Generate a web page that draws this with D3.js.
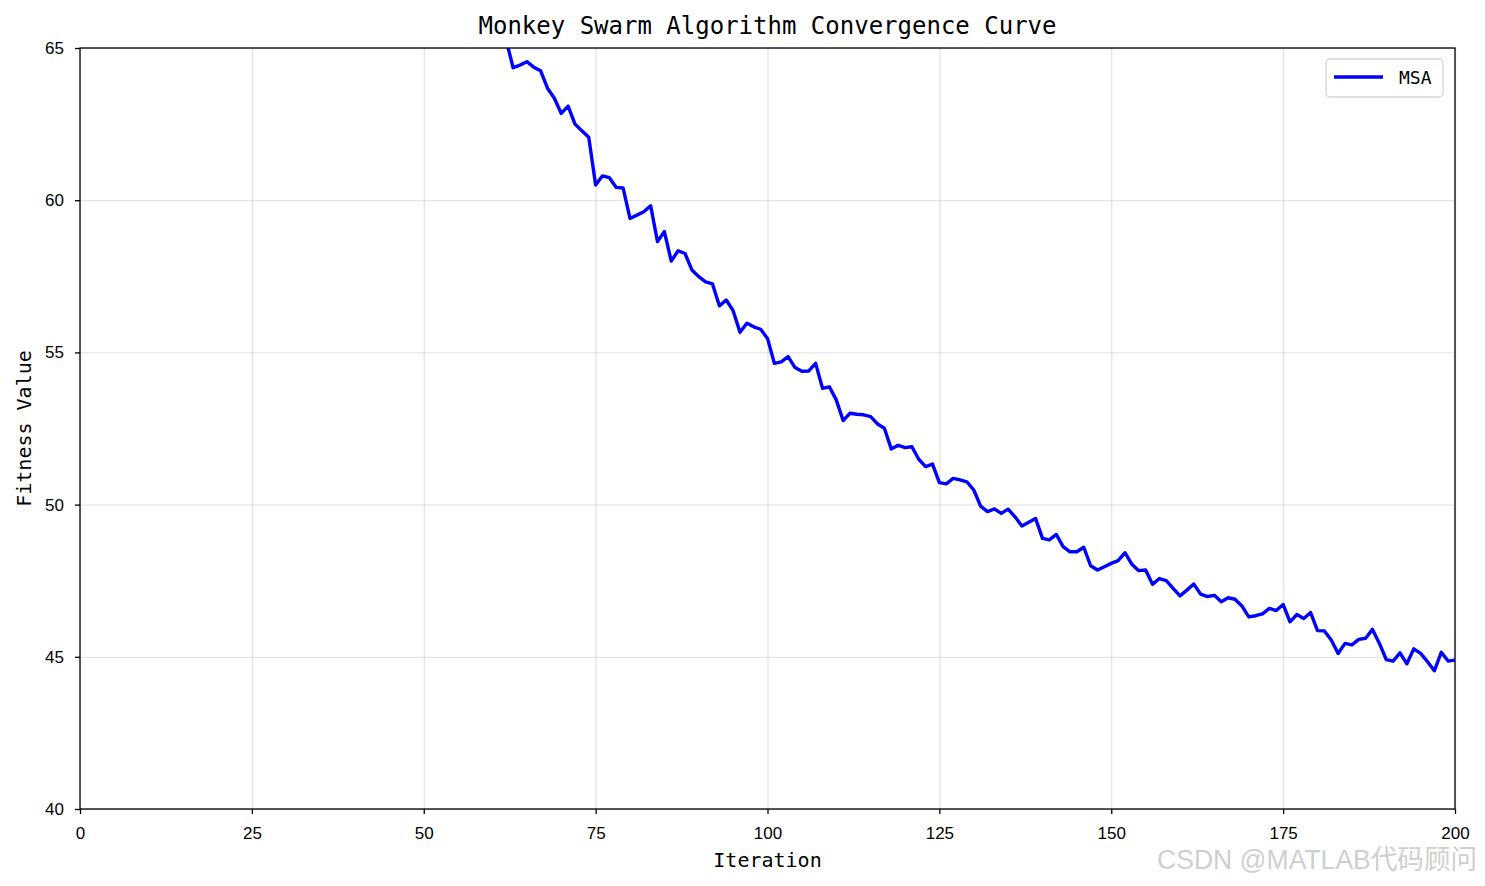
<!DOCTYPE html>
<html>
<head>
<meta charset="utf-8">
<script src="https://cdn.jsdelivr.net/npm/d3@7"></script>
<style>
  body { margin: 0; background: #fff; }
  .axis path, .axis line { stroke: #000; stroke-width: 1.3px; }
  .axis text { font-family: 'Liberation Sans', Arial, sans-serif; font-size: 17px; fill: #000; }
  .grid line { stroke: #000; stroke-opacity: 0.1; stroke-width: 1.3px; }
  .grid path { display: none; }
</style>
</head>
<body>
<script>
// fitness per iteration (earlier iterations are above the y range)
const firstIteration = 62
const fitness = [
  65.25, 64.35, 64.44, 64.55, 64.37, 64.25, 63.68, 63.35, 62.85, 63.09,
  62.50, 62.28, 62.07, 60.50, 60.80, 60.74, 60.42, 60.40, 59.40, 59.51,
  59.62, 59.82, 58.64, 58.97, 58.00, 58.34, 58.25, 57.71, 57.49, 57.32,
  57.25, 56.53, 56.72, 56.37, 55.66, 55.96, 55.84, 55.76, 55.46, 54.64,
  54.69, 54.86, 54.50, 54.38, 54.39, 54.64, 53.82, 53.87, 53.44, 52.76,
  53.00, 52.97, 52.95, 52.89, 52.65, 52.51, 51.83, 51.95, 51.87, 51.90,
  51.49, 51.25, 51.33, 50.72, 50.68, 50.86, 50.81, 50.75, 50.48, 49.95,
  49.77, 49.86, 49.71, 49.85, 49.60, 49.30, 49.42, 49.54, 48.89, 48.84,
  49.02, 48.62, 48.45, 48.45, 48.60, 47.99, 47.85, 47.96, 48.07, 48.16,
  48.42, 48.04, 47.83, 47.85, 47.38, 47.57, 47.50, 47.25, 47.00, 47.19,
  47.39, 47.06, 46.98, 47.02, 46.81, 46.94, 46.89, 46.67, 46.31, 46.35,
  46.41, 46.59, 46.52, 46.72, 46.15, 46.39, 46.26, 46.45, 45.86, 45.85,
  45.55, 45.11, 45.44, 45.39, 45.57, 45.61, 45.90, 45.44, 44.91, 44.86,
  45.13, 44.77, 45.26, 45.11, 44.84, 44.54, 45.15, 44.86, 44.89
]
const xTicks = [0, 25, 50, 75, 100, 125, 150, 175, 200]
const yTicks = [40, 45, 50, 55, 60, 65]
const seriesName = 'MSA'
const titleText = 'Monkey Swarm Algorithm Convergence Curve'
const xLabel = 'Iteration'
const yLabel = 'Fitness Value'

const svgWidth = 1485, svgHeight = 886
const margin = {top: 48, right: 30, bottom: 77, left: 80}
const width = svgWidth - margin.left - margin.right,
  height = svgHeight - margin.top - margin.bottom

const data = fitness.map(function(v, i) { return {iter: firstIteration + i, value: v} })

const svg = d3.select('body').append('svg')
  .attr('width', svgWidth)
  .attr('height', svgHeight)

const x = d3.scaleLinear().domain([0, 200]).range([0, width])
const y = d3.scaleLinear().domain([40, 65]).range([height, 0])

svg.append('defs').append('clipPath')
  .attr('id', 'clip')
  .append('rect')
  .attr('width', width)
  .attr('height', height)

const g = svg.append('g')
  .attr('transform', 'translate(' + margin.left + ',' + margin.top + ')')

// grid
g.append('g')
  .attr('class', 'grid')
  .call(d3.axisLeft(y).tickValues(yTicks).tickSize(-width).tickFormat(''))
g.append('g')
  .attr('class', 'grid')
  .attr('transform', 'translate(0,' + height + ')')
  .call(d3.axisBottom(x).tickValues(xTicks).tickSize(-height).tickFormat(''))

const line = d3.line()
  .x(function(d) { return x(d.iter) })
  .y(function(d) { return y(d.value) })

g.append('path')
  .datum(data)
  .attr('clip-path', 'url(#clip)')
  .attr('fill', 'none')
  .attr('stroke', '#0000ff')
  .attr('stroke-width', 3.4)
  .attr('stroke-linejoin', 'round')
  .attr('d', line)

// frame
g.append('rect')
  .attr('width', width)
  .attr('height', height)
  .attr('fill', 'none')
  .attr('stroke', '#000')
  .attr('stroke-width', 1.3)

const xAxis = g.append('g')
  .attr('class', 'axis')
  .attr('transform', 'translate(0,' + height + ')')
  .call(d3.axisBottom(x).tickValues(xTicks).tickSize(5).tickPadding(13).tickSizeOuter(0))
const yAxis = g.append('g')
  .attr('class', 'axis')
  .call(d3.axisLeft(y).tickValues(yTicks).tickSize(5).tickPadding(11).tickSizeOuter(0))
xAxis.select('.domain').remove()
yAxis.select('.domain').remove()

// title and labels
svg.append('text')
  .attr('x', margin.left + width / 2)
  .attr('y', 34)
  .attr('text-anchor', 'middle')
  .style('font-family', "'DejaVu Sans Mono', monospace")
  .style('font-size', '24px')
  .text(titleText)

svg.append('text')
  .attr('x', margin.left + width / 2)
  .attr('y', 867)
  .attr('text-anchor', 'middle')
  .style('font-family', "'DejaVu Sans Mono', monospace")
  .style('font-size', '20px')
  .text(xLabel)

svg.append('text')
  .attr('transform', 'translate(31,' + (margin.top + height / 2) + ') rotate(-90)')
  .attr('text-anchor', 'middle')
  .style('font-family', "'DejaVu Sans Mono', monospace")
  .style('font-size', '20px')
  .text(yLabel)

// legend
const legend = svg.append('g').attr('transform', 'translate(1326,59)')
legend.append('rect')
  .attr('width', 117)
  .attr('height', 38)
  .attr('rx', 4)
  .attr('fill', '#fff')
  .attr('fill-opacity', 0.8)
  .attr('stroke', '#d6d6d6')
  .attr('stroke-width', 1.3)
legend.append('line')
  .attr('x1', 8).attr('x2', 57)
  .attr('y1', 18).attr('y2', 18)
  .attr('stroke', '#0000ff')
  .attr('stroke-width', 3.4)
legend.append('text')
  .attr('x', 73)
  .attr('y', 25)
  .style('font-family', "'DejaVu Sans Mono', monospace")
  .style('font-size', '18px')
  .text(seriesName)

// watermark
svg.append('text')
  .attr('x', 1477)
  .attr('y', 869)
  .attr('text-anchor', 'end')
  .attr('textLength', 320)
  .attr('lengthAdjust', 'spacingAndGlyphs')
  .style('font-family', "'Liberation Sans', 'Noto Sans CJK SC', sans-serif")
  .style('font-size', '27px')
  .style('fill', '#cfcfcf')
  .text('CSDN @MATLAB代码顾问')
</script>
</body>
</html>
